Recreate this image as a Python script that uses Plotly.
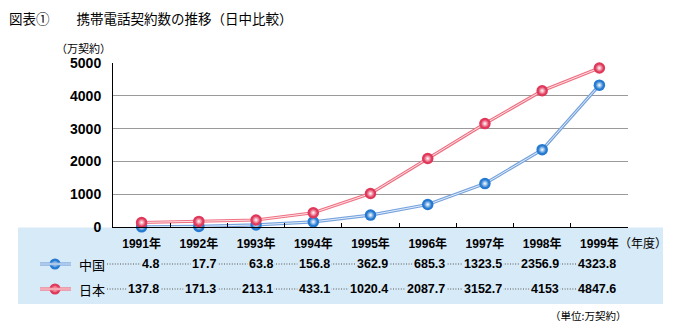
import plotly.graph_objects as go

# ---- data -------------------------------------------------------------
years = ["1991年", "1992年", "1993年", "1994年", "1995年",
         "1996年", "1997年", "1998年", "1999年"]
china = [4.8, 17.7, 63.8, 156.8, 362.9, 685.3, 1323.5, 2356.9, 4323.8]
japan = [137.8, 171.3, 213.1, 433.1, 1020.4, 2087.7, 3152.7, 4153, 4847.6]
china_label = "中国"
japan_label = "日本"
y_ticks = [0, 1000, 2000, 3000, 4000, 5000]

# ---- page geometry (pixels) --------------------------------------------
W, H = 673, 329
PLOT_L, PLOT_R, PLOT_T, PLOT_B = 113, 628, 63, 227   # plot box in pixels


def px(x):
    """pixel x -> paper x (paper spans the whole page)"""
    return x / W


def py(y):
    """pixel y (from top) -> paper y"""
    return (H - y) / H


NUM_FONT = "Arial, 'Liberation Sans', 'Noto Sans CJK JP', sans-serif"
JP_FONT = "'Noto Sans CJK JP', sans-serif"

BLUE_LINE, BLUE_MARK = "#76a3de", "#2479d0"
RED_LINE, RED_MARK = "#f07082", "#e0385a"
TABLE_BG = "#d7eaf8"
CORE = "rgba(255,255,255,0.8)"

fig = go.Figure()


def series(values, line_c):
    # double-stroke line: coloured stroke with a thin light core
    fig.add_trace(go.Scatter(x=years, y=values, mode="lines",
                             line=dict(color=line_c, width=3.2),
                             hoverinfo="skip", showlegend=False))
    fig.add_trace(go.Scatter(x=years, y=values, mode="lines",
                             line=dict(color=CORE, width=1),
                             hoverinfo="skip", showlegend=False))


def balls(x, y, color, name=None, axes=("x", "y"), size=11.5):
    # glossy ball: solid rim plus a smaller radial highlight on top
    common = dict(x=x, y=y, xaxis=axes[0], yaxis=axes[1], mode="markers",
                  cliponaxis=False, showlegend=False)
    fig.add_trace(go.Scatter(**common, hoverinfo="skip",
                             marker=dict(size=size, color=color,
                                         line=dict(width=0))))
    fig.add_trace(go.Scatter(**common, name=name,
                             marker=dict(size=size - 3.5, color=color,
                                         gradient=dict(type="radial",
                                                       color="white"),
                                         line=dict(width=0))))


series(china, BLUE_LINE)
series(japan, RED_LINE)
balls(years, china, BLUE_MARK, china_label)
balls(years, japan, RED_MARK, japan_label)

# legend swatches in the table rows, on a full-page pixel-unit subplot
row_y = {china_label: 264, japan_label: 289}
for lbl, mc in [(china_label, BLUE_MARK), (japan_label, RED_MARK)]:
    balls([55], [row_y[lbl]], mc, axes=("x2", "y2"), size=11)

shapes = []
annotations = []

# light blue data table panel
shapes.append(dict(type="rect", xref="paper", yref="paper",
                   x0=px(18), x1=px(663), y0=py(304), y1=py(227.5),
                   fillcolor=TABLE_BG, line=dict(width=0), layer="below"))

for lbl, lc, vals in [(china_label, BLUE_LINE, china),
                      (japan_label, RED_LINE, japan)]:
    yy = row_y[lbl]
    # swatch line (double stroke)
    shapes.append(dict(type="line", xref="paper", yref="paper",
                       x0=px(40), x1=px(71), y0=py(yy), y1=py(yy),
                       line=dict(color=lc, width=3.2)))
    shapes.append(dict(type="line", xref="paper", yref="paper",
                       x0=px(40), x1=px(71), y0=py(yy), y1=py(yy),
                       line=dict(color=CORE, width=1)))
    # dotted leader along the row
    shapes.append(dict(type="line", xref="paper", yref="paper",
                       x0=px(107), x1=px(600), y0=py(yy), y1=py(yy),
                       line=dict(color="#555", width=1, dash="1px,1.6px")))
    annotations.append(dict(text=lbl, xref="paper", yref="paper",
                            x=px(77), y=py(yy), xanchor="left",
                            yanchor="middle", showarrow=False,
                            font=dict(family=JP_FONT, size=13, color="#000")))
    for yr, v in zip(years, vals):
        annotations.append(dict(
            text=f"{v:g}", xref="x", yref="paper", x=yr, y=py(yy),
            xanchor="right", yanchor="middle", xshift=19, showarrow=False,
            bgcolor=TABLE_BG, borderpad=1,
            font=dict(family=NUM_FONT, size=12.5, color="#000",
                      weight="bold")))

# titles and unit labels
annotations += [
    dict(text="図表①\u3000\u3000携帯電話契約数の推移（日中比較）",
         xref="paper", yref="paper", x=px(7), y=py(18), xanchor="left",
         yanchor="middle", showarrow=False,
         font=dict(family=JP_FONT, size=13.5, color="#000")),
    dict(text="（万契約）", xref="paper", yref="paper", x=px(113),
         y=py(48), xanchor="right", yanchor="middle", showarrow=False,
         font=dict(family=JP_FONT, size=11, color="#000")),
    dict(text="（年度）", xref="paper", yref="paper", x=px(617),
         y=py(242), xanchor="left", yanchor="middle", showarrow=False,
         font=dict(family=JP_FONT, size=12, color="#000")),
    dict(text="（単位:万契約）", xref="paper", yref="paper", x=px(628),
         y=py(315), xanchor="right", yanchor="middle", showarrow=False,
         font=dict(family=JP_FONT, size=10.5, color="#000")),
]

fig.update_layout(
    width=W, height=H,
    margin=dict(l=0, r=0, t=0, b=0, pad=0, autoexpand=False),
    paper_bgcolor="white", plot_bgcolor="rgba(0,0,0,0)", showlegend=False,
    xaxis=dict(domain=[px(PLOT_L), px(PLOT_R)], anchor="y", automargin=False,
               type="category", categoryorder="array", categoryarray=years,
               range=[-0.5, len(years) - 0.5], tickson="boundaries",
               ticks="inside", ticklen=4, tickcolor="#000", showgrid=False,
               showline=True, linecolor="#000", linewidth=1, zeroline=False,
               ticklabelstandoff=6,
               tickfont=dict(family=NUM_FONT, size=12, color="#000",
                             weight="bold")),
    yaxis=dict(domain=[py(PLOT_B), py(PLOT_T)], anchor="x", automargin=False,
               range=[0, 5000], tickvals=y_ticks, showgrid=True,
               gridcolor="#9a9a9a", gridwidth=1, showline=True,
               linecolor="#000", linewidth=1, zeroline=False, ticks="",
               ticklabelstandoff=8,
               tickfont=dict(family=NUM_FONT, size=14, color="#000",
                             weight="bold")),
    xaxis2=dict(domain=[0, 1], anchor="y2", range=[0, W], visible=False,
                automargin=False),
    yaxis2=dict(domain=[0, 1], anchor="x2", range=[H, 0], visible=False,
                automargin=False),
    shapes=shapes, annotations=annotations,
)

fig.write_html("out.html")
